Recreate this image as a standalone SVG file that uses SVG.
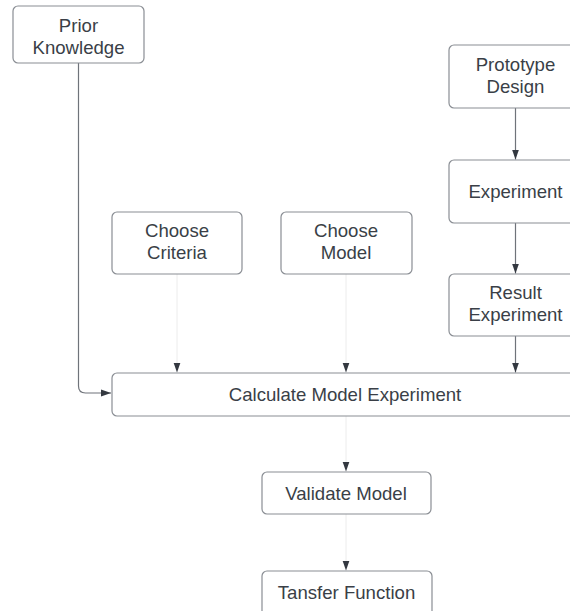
<svg xmlns="http://www.w3.org/2000/svg" width="570" height="611" viewBox="0 0 570 611">
  <style>
    .box { fill: #ffffff; stroke: #8a8e94; stroke-width: 1.2; }
    .lbl { font-family: "Liberation Sans", Arial, sans-serif; font-size: 18.6px; fill: #3a3f47; text-anchor: middle; }
    .wire { fill: none; stroke: #6f737a; stroke-width: 1.2; }
    .faint { fill: none; stroke: #ececec; stroke-width: 1; }
  </style>
  <defs>
    <marker id="tip" viewBox="0 0 10 10" refX="10" refY="5" markerWidth="10" markerHeight="10" markerUnits="userSpaceOnUse" orient="auto">
      <path d="M0,1.5 L10,5 L0,8.5 Z" fill="#333840"/>
    </marker>
  </defs>
  <rect width="570" height="611" fill="#ffffff"/>

  <g id="connectors">
    <path class="wire" d="M78.5,63 V386 Q78.5,393 85.5,393 H111" marker-end="url(#tip)"/>
    <path class="wire" d="M515.5,108 V159.5" marker-end="url(#tip)"/>
    <path class="wire" d="M515.5,223 V273.5" marker-end="url(#tip)"/>
    <path class="wire" d="M515.5,336 V372.5" marker-end="url(#tip)"/>
    <path class="faint" d="M177,274 V372.5" marker-end="url(#tip)"/>
    <path class="faint" d="M346,274 V372.5" marker-end="url(#tip)"/>
    <path class="faint" d="M346,416 V471.5" marker-end="url(#tip)"/>
    <path class="faint" d="M346,514 V570.5" marker-end="url(#tip)"/>
  </g>

  <g id="prior-knowledge">
    <rect class="box" x="13" y="6" width="131" height="57" rx="5"/>
    <text class="lbl" x="78.5" y="31.5">Prior</text>
    <text class="lbl" x="78.5" y="53.5">Knowledge</text>
  </g>

  <g id="prototype-design">
    <rect class="box" x="449" y="45" width="134" height="63" rx="5"/>
    <text class="lbl" x="515.5" y="70.5">Prototype</text>
    <text class="lbl" x="515.5" y="92.5">Design</text>
  </g>

  <g id="experiment">
    <rect class="box" x="449" y="160" width="134" height="63" rx="5"/>
    <text class="lbl" x="515.5" y="197.5">Experiment</text>
  </g>

  <g id="result-experiment">
    <rect class="box" x="449" y="274" width="134" height="62" rx="5"/>
    <text class="lbl" x="515.5" y="298.5">Result</text>
    <text class="lbl" x="515.5" y="320.5">Experiment</text>
  </g>

  <g id="choose-criteria">
    <rect class="box" x="112" y="212" width="130" height="62" rx="5"/>
    <text class="lbl" x="177" y="236.5">Choose</text>
    <text class="lbl" x="177" y="258.5">Criteria</text>
  </g>

  <g id="choose-model">
    <rect class="box" x="281" y="212" width="131" height="62" rx="5"/>
    <text class="lbl" x="346" y="236.5">Choose</text>
    <text class="lbl" x="346" y="258.5">Model</text>
  </g>

  <g id="calculate-model-experiment">
    <rect class="box" x="112" y="373" width="468" height="43" rx="5"/>
    <text class="lbl" x="345" y="400.5">Calculate Model Experiment</text>
  </g>

  <g id="validate-model">
    <rect class="box" x="262" y="472" width="169" height="42" rx="5"/>
    <text class="lbl" x="346" y="499.5">Validate Model</text>
  </g>

  <g id="transfer-function">
    <rect class="box" x="262" y="571" width="170" height="48" rx="5"/>
    <text class="lbl" x="346.5" y="598.5">Tansfer Function</text>
  </g>
</svg>
